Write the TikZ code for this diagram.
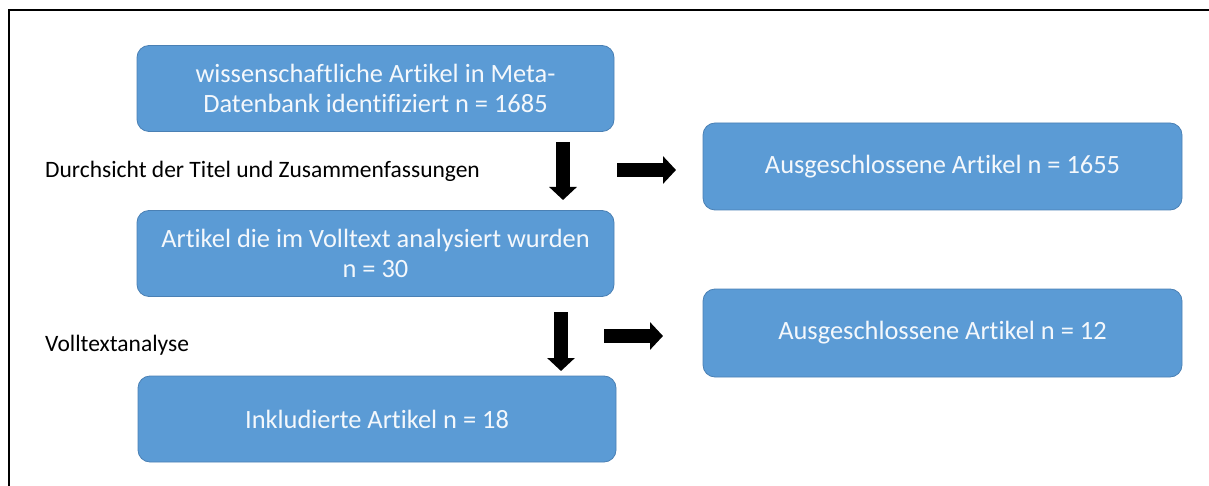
\documentclass[tikz,border=0pt]{standalone}
\usepackage{fontspec}
\setmainfont[Ligatures={NoCommon}]{Carlito}
\usetikzlibrary{arrows.meta}
\definecolor{boxfill}{HTML}{5B9BD5}
\definecolor{boxline}{HTML}{4A80B4}
\definecolor{boxtext}{HTML}{F4F8FC}
\tikzset{
  flowbox/.style={draw=boxline, line width=0.8pt, fill=boxfill, rounded corners=12pt,
    text=boxtext, align=center, inner sep=0pt, minimum width=477pt, minimum height=86pt,
    font=\fontsize{26.4}{30.5}\selectfont},
  sidelabel/.style={anchor=west, inner sep=0pt, text=black, font=\fontsize{23.5}{27}\selectfont},
  blockarrow/.style={line width=13.5pt, -{Triangle[width=27pt,length=13pt]}, black},
  framebar/.style={line width=2pt, black}
}
\begin{document}
\begin{tikzpicture}[x=1pt,y=-1pt]
\useasboundingbox (0,0) rectangle (1209,486);
\coordinate (ftl) at (9,10);
\coordinate (ftr) at (1209,10);
\coordinate (fbl) at (9,486);
\draw[framebar] (ftr) -- (ftl) -- (fbl);

\node[flowbox] (b1) at (375.5,88.5) {wissenschaftliche Artikel in Meta-\\Datenbank identifiziert n = 1685};
\node[flowbox] (b2) at (375.5,253.5) {Artikel die im Volltext analysiert wurden\\n = 30};
\node[flowbox, minimum width=478pt] (b3) at (377,419) {Inkludierte Artikel n = 18};
\node[flowbox, minimum width=479pt, minimum height=87pt] (r1) at (942.5,166.5) {\raisebox{-2pt}{Ausgeschlossene Artikel n = 1655}};
\node[flowbox, minimum width=479pt, minimum height=88pt] (r2) at (942.5,333) {Ausgeschlossene Artikel n = 12};

\node[sidelabel] (l1) at (45,171) {Durchsicht der Titel und Zusammenfassungen};
\node[sidelabel] (l2) at (45,345) {Volltextanalyse};

\coordinate (d1s) at (563,142);
\coordinate (d1e) at (563,200);
\coordinate (h1s) at (617,170);
\coordinate (h1e) at (676,170);
\coordinate (d2s) at (561,312);
\coordinate (d2e) at (561,371);
\coordinate (h2s) at (604,336);
\coordinate (h2e) at (663,336);
\draw[blockarrow] (d1s) -- (d1e);
\draw[blockarrow] (h1s) -- (h1e);
\draw[blockarrow] (d2s) -- (d2e);
\draw[blockarrow] (h2s) -- (h2e);
\end{tikzpicture}
\end{document}
